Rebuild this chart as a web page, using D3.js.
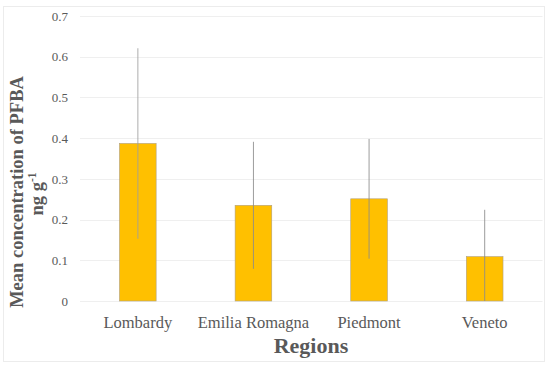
<!DOCTYPE html>
<html>
<head>
<meta charset="utf-8">
<script src="https://cdn.jsdelivr.net/npm/d3@7"></script>
<style>
  html, body { margin: 0; padding: 0; background: #fff; }
  svg { display: block; }
  svg text { font-family: "Liberation Serif", "Times New Roman", serif; }
</style>
</head>
<body>
<svg id="chart" width="550" height="366"></svg>
<script>
const regions = ["Lombardy", "Emilia Romagna", "Piedmont", "Veneto"];
const meanValues = [0.387, 0.235, 0.251, 0.109];
const errorValues = [0.234, 0.156, 0.147, 0.115];
const yTicks = [0, 0.1, 0.2, 0.3, 0.4, 0.5, 0.6, 0.7];

const FONT = "'Liberation Serif', 'Times New Roman', serif";
const svg = d3.select("#chart");
const plotLeft = 80, plotRight = 542.5, plotTop = 16, plotBottom = 301;

// outer border
svg.append("rect")
  .attr("x", 3.5).attr("y", 6.5).attr("width", 541).attr("height", 355)
  .attr("fill", "none").attr("stroke", "#ececec").attr("stroke-width", 1);

const x = d3.scaleBand().domain(regions).range([plotLeft, plotRight])
  .paddingInner(0.683).paddingOuter(0.3415);
const y = d3.scaleLinear().domain([0, 0.7]).range([plotBottom, plotTop]);

// gridlines
svg.append("g").selectAll("line").data(yTicks).join("line")
  .attr("x1", plotLeft).attr("x2", plotRight)
  .attr("y1", d => Math.round(y(d)) + 0.5).attr("y2", d => Math.round(y(d)) + 0.5)
  .attr("stroke", "#efefef").attr("stroke-width", 1);

// y axis labels
const yAxis = d3.axisLeft(y).tickValues(yTicks).tickFormat(d => d === 0 ? "0" : d3.format(".1f")(d)).tickSize(0).tickPadding(12);
const gy = svg.append("g").attr("transform", `translate(${plotLeft},0)`).call(yAxis);
gy.attr("font-family", null);
gy.select(".domain").remove();
gy.selectAll("text").style("font-family", FONT)
  .style("font-size", "13px").attr("fill", "#595959");

// bars
svg.append("g").selectAll("rect").data(regions).join("rect")
  .attr("x", d => x(d)).attr("width", x.bandwidth())
  .attr("y", (d, i) => y(meanValues[i])).attr("height", (d, i) => y(0) - y(meanValues[i]))
  .attr("fill", "#FFC000").attr("stroke", "#b0a080").attr("stroke-width", 0.6);

// error bars
svg.append("g").selectAll("line").data(regions).join("line")
  .attr("x1", d => x(d) + x.bandwidth() / 2).attr("x2", d => x(d) + x.bandwidth() / 2)
  .attr("y1", (d, i) => y(Math.min(0.7, meanValues[i] + errorValues[i])))
  .attr("y2", (d, i) => y(Math.max(0, meanValues[i] - errorValues[i])))
  .attr("stroke", (d, i) => i === 0 ? "#a0a0a0" : "#8c8c8c")
  .attr("stroke-width", (d, i) => i === 0 ? 1.4 : 1)
  .attr("opacity", (d, i) => i === 0 ? 0.6 : 0.85);

// x axis labels
const xAxis = d3.axisBottom(x).tickSize(0).tickPadding(15);
const gx = svg.append("g").attr("transform", `translate(0,${plotBottom})`).call(xAxis);
gx.attr("font-family", null);
gx.select(".domain").remove();
gx.selectAll("text").style("font-family", FONT)
  .style("font-size", "16.5px").attr("fill", "#595959");

// axis titles
svg.append("text")
  .attr("x", 311).attr("y", 353)
  .attr("text-anchor", "middle")
  .style("font-family", FONT)
  .style("font-weight", "bold").style("font-size", "22px").attr("fill", "#595959")
  .text("Regions");

svg.append("text")
  .attr("transform", "translate(23,192) rotate(-90)")
  .attr("text-anchor", "middle")
  .style("font-family", FONT)
  .style("font-weight", "bold").style("font-size", "18.5px").attr("fill", "#595959")
  .text("Mean concentration of PFBA");

const yt2 = svg.append("text")
  .attr("transform", "translate(43,194) rotate(-90)")
  .attr("text-anchor", "middle")
  .style("font-family", FONT)
  .style("font-weight", "bold").style("font-size", "18.5px").attr("fill", "#595959");
yt2.append("tspan").text("ng g");
yt2.append("tspan").attr("dy", -7).style("font-size", "11.5px").text("-1");
</script>
</body>
</html>
